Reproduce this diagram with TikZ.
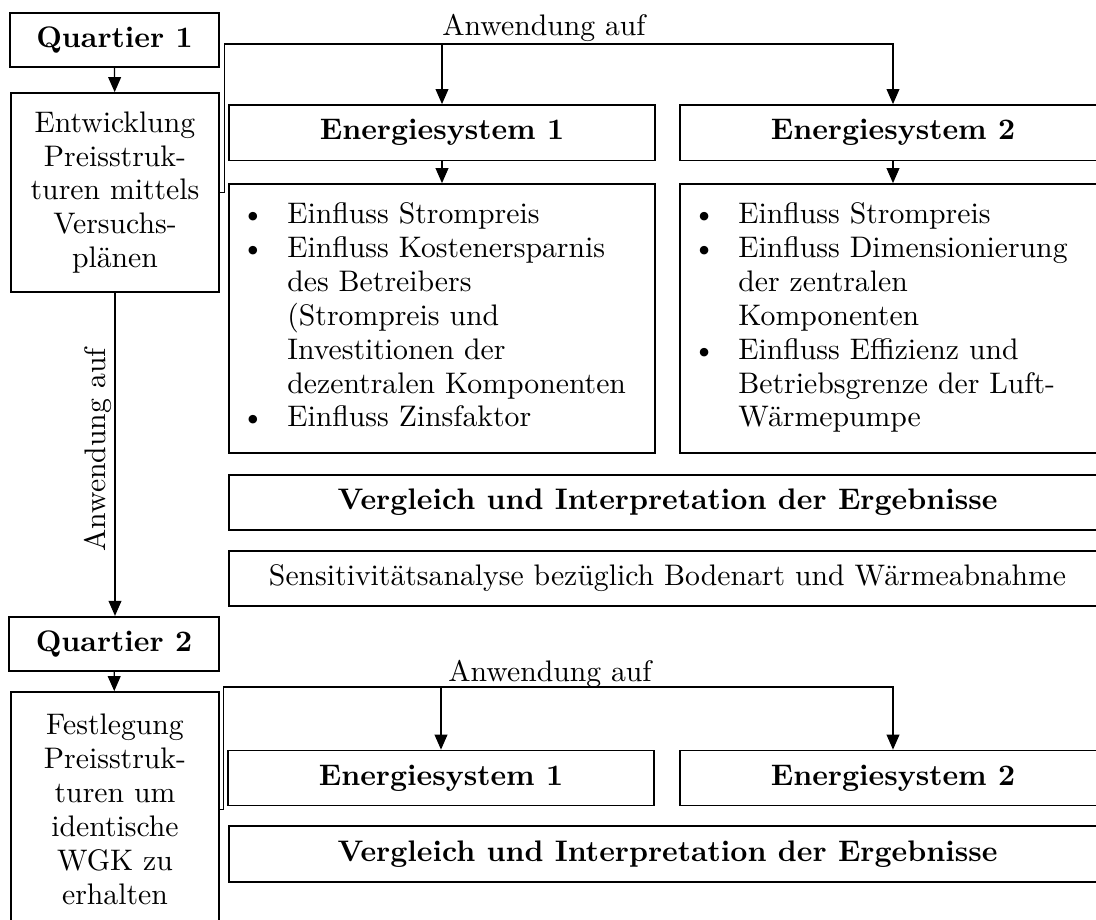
\documentclass[tikz,border=0pt]{standalone}
\usetikzlibrary{arrows.meta}
\begin{document}
\begin{tikzpicture}[x=0.36pt,y=-0.36pt,
  every node/.style={font=\fontsize{10.7}{12.2}\selectfont},
  box/.style={draw, line width=0.6pt, inner sep=0pt, align=center},
  wh/.style 2 args={minimum width=#1*0.36pt, minimum height=#2*0.36pt},
  conn/.style={line width=0.45pt},
  arr/.style={conn, -{Triangle[width=4.6pt,length=5.4pt]}},
  lbl/.style={anchor=base, inner sep=0pt},
  lst/.style={anchor=west, inner sep=0pt, align=left},
]
\useasboundingbox (0,0) rectangle (1096,920);

% left column
\node[box, wh={209}{54}] (q1) at (114.5,40) {\textbf{Quartier 1}};
\node[box, wh={208}{199}] (ent) at (115,192.5) {Entwicklung\\Preisstruk-\\turen mittels\\Versuchs-\\plänen};
\node[box, wh={210}{54.5}] (q2) at (114,644) {\textbf{Quartier 2}};
\node[box, wh={208}{235}] (fest) at (115,809.5) {Festlegung\\Preisstruk-\\turen um\\identische\\WGK zu\\erhalten};

% upper block
\node[box, wh={426}{55.5}] (es1) at (442,132.7) {\textbf{Energiesystem 1}};
\node[box, wh={426}{55.5}] (es2) at (893,132.7) {\textbf{Energiesystem 2}};
\node[box, wh={426}{269}] (l1) at (442,318.5) {};
\node[box, wh={426}{269}] (l2) at (893,318.5) {};
\node[lst] (l1t) at ([xshift=4.6pt]l1.west) {%
\begin{tabular}{@{}c@{\hspace{8.2pt}}l@{}}
\textbullet & Einfluss Strompreis\\
\textbullet & Einfluss Kostenersparnis\\
 & des Betreibers\\
 & (Strompreis und\\
 & Investitionen der\\
 & dezentralen Komponenten\\
\textbullet & Einfluss Zinsfaktor
\end{tabular}};
\node[lst] (l2t) at ([xshift=4.6pt]l2.west) {%
\begin{tabular}{@{}c@{\hspace{8.2pt}}l@{}}
\textbullet & Einfluss Strompreis\\
\textbullet & Einfluss Dimensionierung\\
 & der zentralen\\
 & Komponenten\\
\textbullet & Einfluss Effizienz und\\
 & Betriebsgrenze der Luft-\\
 & Wärmepumpe
\end{tabular}};
\node[box, wh={877}{55}] (v1) at (667.5,502.5) {\textbf{Vergleich und Interpretation der Ergebnisse}};
\node[box, wh={877}{55}] (sens) at (667.5,578.5) {Sensitivitätsanalyse bezüglich Bodenart und Wärmeabnahme};

% lower block
\node[box, wh={426}{55}] (bes1) at (441,778) {\textbf{Energiesystem 1}};
\node[box, wh={426}{55}] (bes2) at (893,778) {\textbf{Energiesystem 2}};
\node[box, wh={877}{56}] (bv) at (667.5,854) {\textbf{Vergleich und Interpretation der Ergebnisse}};

% connectors
\coordinate (t1) at (442,44);
\coordinate (t2) at (893,44);
\coordinate (b1) at (441,687);
\coordinate (b2) at (893,687);

\draw[arr] (q1) -- (ent);
\draw[arr] (q2) -- (fest);
\draw[arr] (ent.south) -- node[pos=0.486, rotate=90, anchor=south, inner sep=1pt] (lv) {Anwendung auf} (ent.south |- q2.north);

\draw[arr] (ent.east) -- ++(4.5,0) |- (t2) -- (es2.north);
\draw[arr] (t1) -- (es1.north);
\node[lbl] (lt) at (544,35.5) {Anwendung auf};
\draw[arr] (es1) -- (l1);
\draw[arr] (es2) -- (l2);

\draw[arr] (fest.east) -- ++(3.5,0) |- (b2) -- (bes2.north);
\draw[arr] (b1) -- (bes1.north);
\node[lbl] (lb) at (550,682) {Anwendung auf};
\end{tikzpicture}
\end{document}
